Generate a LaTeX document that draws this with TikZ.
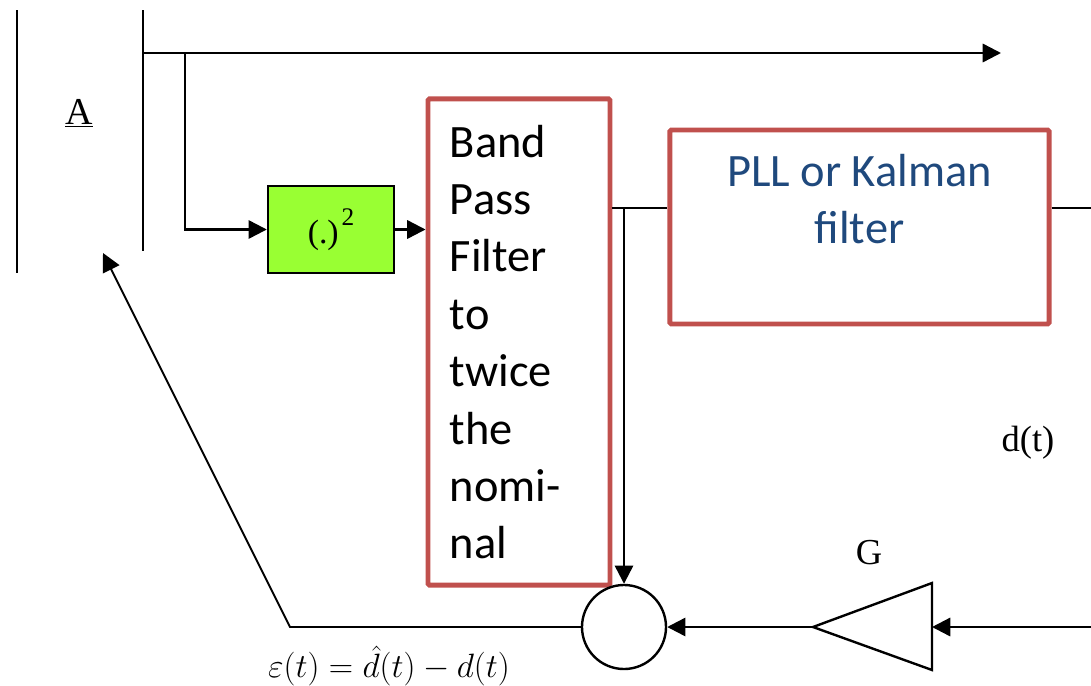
\RequirePackage{fix-cm}
\documentclass[tikz,border=0pt]{standalone}
\usepackage{fontspec}
\setmainfont{Liberation Serif}
\newfontfamily\calibri{Carlito}
\usepackage{tikz}
\usetikzlibrary{arrows.meta, positioning, calc}
\definecolor{boxred}{RGB}{192,80,77}
\definecolor{pllblue}{RGB}{31,73,125}
\definecolor{sqgreen}{RGB}{153,255,51}

\begin{document}
\begin{tikzpicture}[x=0.025cm, y=-0.025cm,
  ln/.style={line width=1.7pt},
  a/.style={ln, -{Triangle[length=13pt, width=13pt]}},
  rb/.style={draw=boxred, line width=3.5pt, rounded corners=1pt, inner sep=0pt},
  cal/.style={font=\calibri\fontsize{33}{40.8}\selectfont},
  tm/.style={font=\fontsize{26}{30}\selectfont}]
\useasboundingbox (0,0) rectangle (1091,685);

% front end
\draw[ln] (17,10) -- (17,273);
\draw[ln] (143,10) -- (143,251);
\node[tm, font=\fontsize{27}{30}\selectfont] (A) at (79,113) {\underline{A}};
\coordinate (top) at (143,53);
\coordinate (out) at (1001,53);
\coordinate (br) at (185,53);
\draw[a] (top) -- (out);

% squarer, band pass, tracking loop
\node[draw, ln, fill=sqgreen, minimum width=3.15cm, minimum height=2.175cm,
      font=\fontsize{24}{28}\selectfont] (sq) at (331,229.5)
      {(.)\hspace{2pt}\raisebox{13pt}{\fontsize{18}{18}\selectfont 2}};
\node[rb, cal, text width=3.45cm, inner xsep=0.55cm, minimum height=12.15cm,
      align=left] (bpf) at (519,342) {Band\\Pass\\Filter\\to\\twice\\the\\nomi-\\nal};
\node[rb, minimum width=9.475cm, minimum height=4.85cm] (pll) at (859.5,227) {};
\node[cal, text=pllblue, align=center, inner sep=0pt] (plltxt) at (859.5,199) {PLL or Kalman\\filter};
\coordinate (j) at (624,208);
\coordinate (dout) at (1091,208);
\draw[a] (br) |- (sq.west);
\draw[a] (sq.east) -- (bpf.west |- sq.east);
\draw[ln] (bpf.east |- j) -- (pll.west |- j);
\draw[ln] (pll.east |- j) -- (dout);
\node[tm] (d) at (1028,443) {d(t)};

% error path
\node[draw, circle, ln, minimum size=2.1cm, inner sep=0pt] (sum) at (624,627) {};
\draw[a] (j) -- (sum.north);
\coordinate (gtip) at (813,627);
\coordinate (gbase) at (932,627);
\coordinate (din) at (1091,627);
\draw[ln] (gtip) -- (932,583) -- (932,670) -- cycle;
\node[tm] (G) at (869,553) {G};
\draw[a] (din) -- (gbase);
\draw[a] (gtip) -- (sum.east);
\coordinate (fb) at (290,627);
\coordinate (fbend) at (103,253);
\draw[a, line width=1.3pt] (sum.west) -- (fb) -- (fbend);
\node[font=\fontsize{24}{28}\selectfont] (err) at (389,666) {$\varepsilon(t) = \hat{d}(t) - d(t)$};
\end{tikzpicture}
\end{document}
